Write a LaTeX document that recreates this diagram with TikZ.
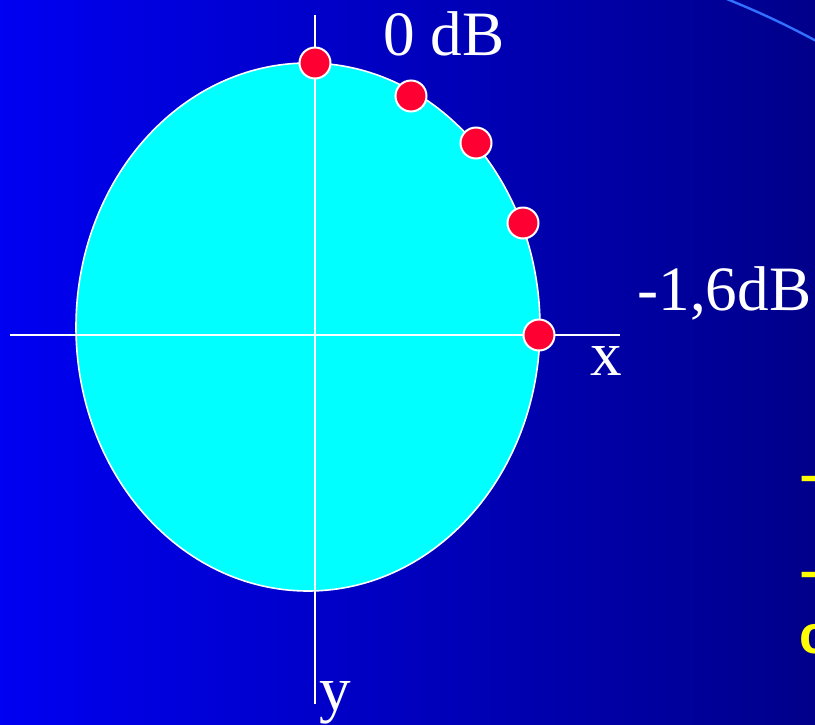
\documentclass[tikz,border=0pt]{standalone}
\usepackage{fontspec}
\setmainfont{Liberation Serif}
\newfontfamily\slidesans{Liberation Sans}
\usepackage{tikz}
\usetikzlibrary{positioning}
\definecolor{SlideBlue}{HTML}{0000F2}
\definecolor{SlideNavy}{HTML}{00008A}
\definecolor{DiskCyan}{HTML}{00FFFF}
\definecolor{DotRed}{HTML}{FF0033}
\definecolor{ArcBlue}{HTML}{3370FF}
\definecolor{NoteYellow}{HTML}{FFFF00}

\begin{document}
\begin{tikzpicture}[x=.5pt,y=-.5pt,
  axis/.style={white,line width=1pt},
  dot/.style={circle,fill=DotRed,draw=white,line width=1pt,inner sep=0pt,minimum size=15.5pt},
  lbl/.style={white,inner sep=0pt,font=\fontsize{31.6}{32}\selectfont},
  note/.style={NoteYellow,inner sep=0pt,anchor=base west,font=\slidesans\bfseries\fontsize{27}{27}\selectfont}]
\useasboundingbox (0,0) rectangle (815,724);
\clip (0,0) rectangle (815,724);
\shade[left color=SlideBlue,right color=SlideNavy] (0,0) rectangle (815,724);
\draw[ArcBlue,line width=1.2pt] (722,-3) to[bend left=3] (822,44);
% disk and axes
\draw[fill=DiskCyan,draw=white,line width=.8pt] (308,327) ellipse [x radius=116pt,y radius=132pt];
\coordinate (xl) at (10,335);
\coordinate (xr) at (620,335);
\coordinate (yt) at (315,15);
\coordinate (yb) at (315,704);
\draw[axis] (xl)--(xr);
\draw[axis] (yt)--(yb);
% points on the rim
\node[dot] (d0) at (315,63) {};
\node[dot] (d1) at (411,96) {};
\node[dot] (d2) at (476,143) {};
\node[dot] (d3) at (523,223) {};
\node[dot] (d4) at (539,335) {};
\node[lbl,anchor=base west] (top) at (383,55) {0 dB};
\node[lbl,anchor=base west] (side) at (637,310) {-1,6dB};
\node[lbl,anchor=base] (xlab) at (606,375) {x};
\node[lbl,anchor=base] (ylab) at (335,710) {y};
\node[note] (n1) at (800,493) {–};
\node[note] (n2) at (800,589) {–};
\node[note] (n3) at (799,653) {c};
\end{tikzpicture}
\end{document}
